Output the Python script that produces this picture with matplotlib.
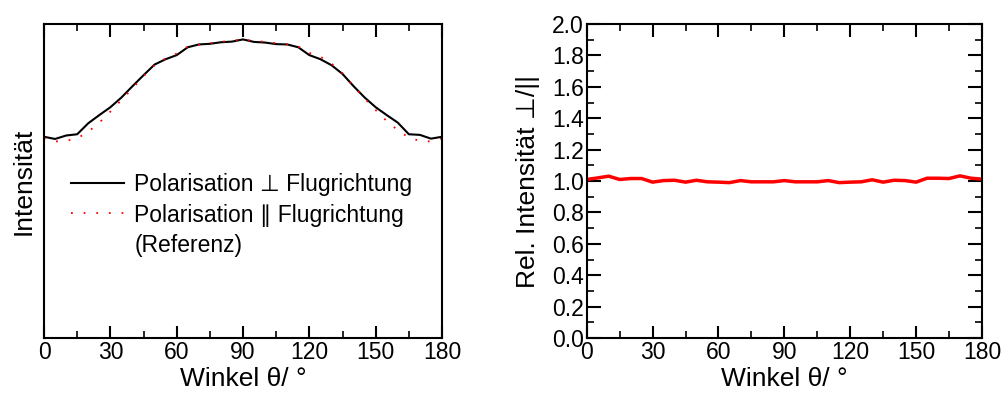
import numpy as np
import matplotlib
matplotlib.use("Agg")
import matplotlib.pyplot as plt
from matplotlib.ticker import MultipleLocator

plt.rcParams['font.family'] = ['Liberation Sans', 'DejaVu Sans']

# angle grid (degrees)
winkel = np.arange(0, 181, 5)

# intensity, polarisation perpendicular to flight direction
intens_senk = [0.641, 0.634, 0.645, 0.649, 0.684, 0.710, 0.735, 0.766, 0.802, 0.837,
               0.871, 0.888, 0.901, 0.926, 0.935, 0.937, 0.942, 0.944, 0.951, 0.943,
               0.941, 0.936, 0.935, 0.926, 0.901, 0.888, 0.869, 0.841, 0.802, 0.766,
               0.735, 0.710, 0.686, 0.649, 0.647, 0.635, 0.641]

# intensity, polarisation parallel (reference)
intens_par = [0.638, 0.626, 0.628, 0.636, 0.657, 0.686, 0.721, 0.758, 0.795, 0.834,
              0.869, 0.890, 0.906, 0.928, 0.934, 0.939, 0.943, 0.948, 0.950, 0.947,
              0.943, 0.939, 0.935, 0.928, 0.908, 0.896, 0.874, 0.843, 0.802, 0.763,
              0.726, 0.691, 0.662, 0.638, 0.628, 0.626, 0.636]

# relative intensity perp / par
rel_intens = [1.010, 1.020, 1.031, 1.010, 1.016, 1.016, 0.993, 1.003, 1.005, 0.993,
              1.005, 0.995, 0.993, 0.990, 1.003, 0.995, 0.995, 0.995, 1.003, 0.995,
              0.995, 0.995, 1.003, 0.990, 0.993, 0.995, 1.008, 0.993, 1.005, 1.003,
              0.993, 1.018, 1.018, 1.016, 1.033, 1.018, 1.012]

x_ticks = [0, 30, 60, 90, 120, 150, 180]

fig = plt.figure(figsize=(10.03, 3.94), dpi=100)
ax1 = fig.add_axes([0.0439, 0.142, 0.3968, 0.797])
ax2 = fig.add_axes([0.585, 0.142, 0.394, 0.797])

fs = 16.5
lab_fs = 19

for ax in (ax1, ax2):
    for s in ax.spines.values():
        s.set_linewidth(1.5)
    ax.set_xlim(0, 180)
    ax.set_xticks(x_ticks)
    ax.xaxis.set_minor_locator(MultipleLocator(15))
    ax.tick_params(axis='x', which='major', direction='in', length=9, width=1.5,
                   labelsize=fs, pad=2, top=True)
    ax.tick_params(axis='x', which='minor', direction='in', length=5, width=1.2, top=True)
    ax.set_xlabel("Winkel θ/ °", fontsize=lab_fs, labelpad=2)

# left plot
ax1.plot(winkel, intens_senk, color='black', lw=1.5, label="Polarisation ⊥ Flugrichtung")
ax1.plot(winkel, intens_par, color='red', lw=1.3, linestyle=(0, (1, 6)),
         label="Polarisation ∥ Flugrichtung")
ax1.plot([], [], color='none', label="(Referenz)")
ax1.set_ylim(0, 1)
ax1.set_yticks([])
ax1.set_ylabel("Intensität", fontsize=lab_fs, labelpad=6)
ax1.legend(loc='upper left', bbox_to_anchor=(0.045, 0.555), frameon=False, fontsize=fs,
           handlelength=2.3, handletextpad=0.45, labelspacing=0.33, borderaxespad=0)

# right plot
ax2.plot(winkel, rel_intens, color='red', lw=2.5)
ax2.set_ylim(0, 2)
ax2.yaxis.set_major_locator(MultipleLocator(0.2))
ax2.yaxis.set_minor_locator(MultipleLocator(0.1))
ax2.yaxis.set_major_formatter(plt.FormatStrFormatter('%.1f'))
ax2.tick_params(axis='y', which='major', direction='in', length=10, width=1.5,
                labelsize=fs, pad=2, right=True)
ax2.tick_params(axis='y', which='minor', direction='in', length=5, width=1.2, right=True)
ax2.set_ylabel("Rel. Intensität ⊥/||", fontsize=lab_fs, labelpad=9)

fig.savefig("out.png", dpi=100)
